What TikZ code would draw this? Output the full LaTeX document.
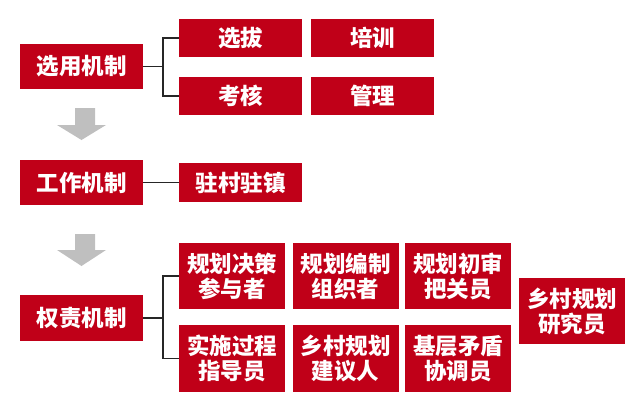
\documentclass[tikz,border=0pt]{standalone}
\usepackage{fontspec}
\newfontfamily\cjk{Noto Sans CJK SC}
\definecolor{boxred}{HTML}{C00018}
\definecolor{arrowgray}{HTML}{BFBFBF}
\definecolor{linegray}{HTML}{262626}
\tikzset{
  redbox/.style={fill=boxred, draw=none, text=white, align=center,
    font=\cjk\bfseries\fontsize{22.5}{25}\selectfont, inner sep=0pt},
  mainbox/.style={redbox, minimum width=123pt, minimum height=45pt},
  subbox/.style={redbox, minimum width=123pt, minimum height=38pt},
  rolebox/.style={redbox, minimum width=106pt, minimum height=66pt},
  link/.style={draw=linegray, line width=1.2pt},
  downarrow/.style={fill=arrowgray, draw=none}
}
\begin{document}
\begin{tikzpicture}[x=1pt,y=-1pt]
\useasboundingbox (0,0) rectangle (642,415);
% row 1
\node[mainbox] (xy) at (81.5,66.5) {选用机制};
\node[subbox] (xb) at (240.5,38) {选拔};
\node[subbox] (px) at (372.5,38) {培训};
\node[subbox] (kh) at (240.5,96) {考核};
\node[subbox] (gl) at (372.5,96) {管理};
\coordinate (j1) at (163,66.5);
\draw[link] (xy.east) -- (j1);
\draw[link] (j1) |- (xb.west);
\draw[link] (j1) |- (kh.west);
% arrow 1
\fill[downarrow] (75,108) -- (95,108) -- (95,125) -- (106,125) -- (81.5,140) -- (57,125) -- (75,125) -- cycle;
% row 2
\node[mainbox] (gz) at (81.5,182.5) {工作机制};
\node[subbox, minimum height=39pt] (zc) at (240.5,182.5) {驻村驻镇};
\draw[link] (gz.east) -- (zc.west);
% arrow 2
\fill[downarrow] (75,234) -- (95,234) -- (95,250) -- (106,250) -- (81.5,266) -- (57,250) -- (75,250) -- cycle;
% row 3
\node[mainbox, minimum height=46pt] (qz) at (81.5,318) {权责机制};
\node[rolebox] (r1) at (232,276) {规划决策\\参与者};
\node[rolebox] (r2) at (345.5,276) {规划编制\\组织者};
\node[rolebox] (r3) at (458,276) {规划初审\\把关员};
\node[rolebox, minimum height=67pt] (r4) at (232,358.5) {实施过程\\指导员};
\node[rolebox, minimum height=67pt] (r5) at (345.5,358.5) {乡村规划\\建议人};
\node[rolebox, minimum height=67pt] (r6) at (458,358.5) {基层矛盾\\协调员};
\node[rolebox] (r7) at (572,311) {乡村规划\\研究员};
\coordinate (j3) at (163,318);
\draw[link] (qz.east) -- (j3);
\draw[link] (j3) |- (r1.west);
\draw[link] (j3) |- (r4.west);
\end{tikzpicture}
\end{document}
